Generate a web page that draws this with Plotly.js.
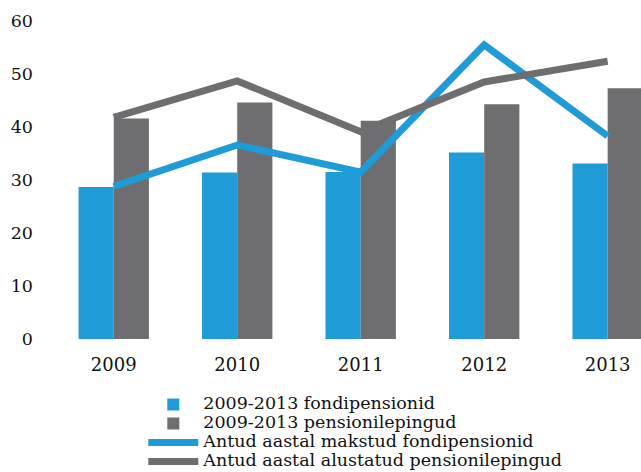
<!DOCTYPE html>
<html>
<head>
<meta charset="utf-8">
<script src="https://cdn.plot.ly/plotly-3.0.1.min.js"></script>
<style>html,body{margin:0;padding:0;background:#fff;}#chart{width:641px;height:472px;}</style>
</head>
<body>
<div id="chart"></div>
<script>
var years = ['2009', '2010', '2011', '2012', '2013'];
var fondBars = [28.7, 31.4, 31.5, 35.2, 33.1];
var lepingBars = [41.6, 44.6, 41.2, 44.3, 47.3];
var fondLine = [28.8, 36.6, 31.5, 55.5, 38.3];
var lepingLine = [41.8, 48.7, 39.1, 48.5, 52.4];
var names = ['2009-2013 fondipensionid', '2009-2013 pensionilepingud',
             'Antud aastal makstud fondipensionid', 'Antud aastal alustatud pensionilepingud'];
var yTicks = [0, 10, 20, 30, 40, 50, 60];

var blue = '#1f9bd7';
var gray = '#6e6e70';

function legendName(s) { return '<span style="font-size:17.5px">' + s + '</span>'; }

var traces = [
  {type: 'bar', x: years, y: fondBars, name: legendName(names[0]), marker: {color: blue}},
  {type: 'bar', x: years, y: lepingBars, name: legendName(names[1]), marker: {color: gray}},
  {type: 'scatter', mode: 'lines', x: years, y: fondLine, name: legendName(names[2]),
   line: {color: blue, width: 7}},
  {type: 'scatter', mode: 'lines', x: years, y: lepingLine, name: legendName(names[3]),
   line: {color: gray, width: 7}}
];

var layout = {
  width: 641, height: 472,
  margin: {l: 52, r: 0, t: 21, b: 133, autoexpand: false},
  paper_bgcolor: '#fff', plot_bgcolor: '#fff',
  font: {family: 'DejaVu Serif', size: 17, color: '#111111'},
  barmode: 'group', bargap: 0.43, bargroupgap: 0,
  showlegend: true,
  xaxis: {type: 'category', range: [-0.5, 4.27], showgrid: false, zeroline: false,
          showline: false, ticks: '', ticklabelstandoff: 13,
          tickfont: {family: 'DejaVu Serif', size: 18, color: '#111111'}},
  yaxis: {range: [0, 60], tickvals: yTicks, showgrid: false, zeroline: false,
          showline: false, ticks: '', ticklabelstandoff: 18,
          tickfont: {family: 'DejaVu Serif', size: 17.5, color: '#111111'}},
  legend: {orientation: 'v', x: 0.155, xanchor: 'left', y: -0.16, yanchor: 'top',
           font: {family: 'DejaVu Serif', size: 12, color: '#111111'},
           itemwidth: 50, tracegroupgap: 0, bgcolor: 'rgba(0,0,0,0)'}
};

Plotly.newPlot('chart', traces, layout, {displayModeBar: false, staticPlot: true});
</script>
</body>
</html>
